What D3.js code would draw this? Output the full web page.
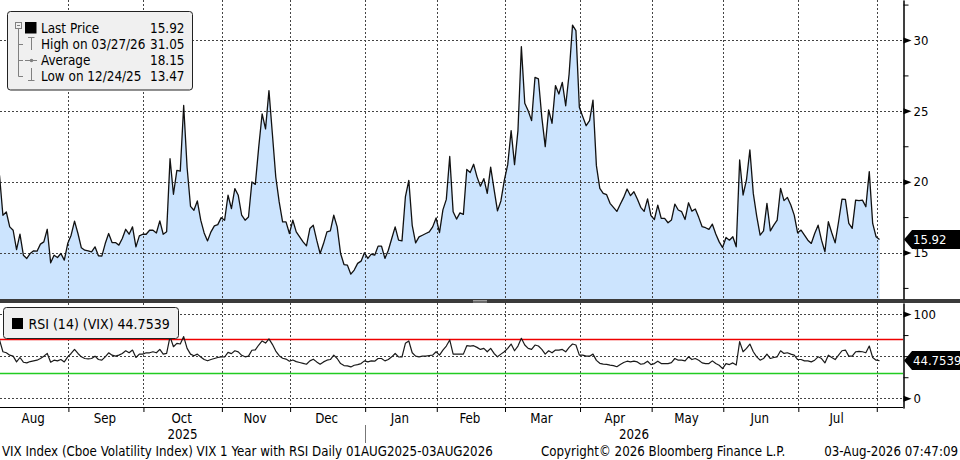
<!DOCTYPE html>
<html><head><meta charset="utf-8">
<script src="https://cdn.jsdelivr.net/npm/d3@7"></script>
<style>
html,body{margin:0;padding:0;background:#fff;}
svg{display:block;font-family:"DejaVu Sans Condensed","DejaVu Sans",sans-serif;}
</style></head><body>
<svg id="c" width="960" height="460"></svg>
<script>
// ---------- data ----------
const startDate = "2025-08-01";
const endDate = "2026-08-03";
const holidays = ["2025-12-25", "2026-01-01", "2026-04-03"];

const vix = [
20.45,17.63,17.86,16.81,16.57,15.21,16.29,14.81,14.58,14.93,
15.12,15.09,15.59,15.75,16.64,14.27,14.81,14.65,14.93,14.46,
15.63,16.22,17.21,16.34,15.33,15.16,15.12,15.05,15.40,14.77,
14.74,15.63,16.34,15.70,15.70,15.52,15.99,16.64,16.29,16.81,
15.40,16.17,16.29,16.29,16.57,16.57,16.38,17.23,16.29,16.46,
21.62,19.11,20.80,20.75,25.38,21.00,18.26,17.98,18.64,17.28,
16.38,15.82,16.46,16.88,16.97,17.46,17.28,19.04,18.10,19.51,
19.04,17.63,17.28,17.51,19.98,19.81,22.44,24.79,23.73,26.43,
23.38,20.33,18.57,17.16,17.16,16.34,17.28,16.46,16.10,15.75,
15.47,16.69,16.92,15.87,14.93,15.63,16.46,16.53,17.63,16.81,
14.93,14.15,14.11,13.47,13.76,14.23,14.39,14.98,14.58,14.88,
14.81,15.45,15.45,14.58,15.16,15.99,16.81,15.87,15.82,18.92,
20.09,16.92,15.68,16.10,16.22,16.34,16.45,16.81,17.44,16.40,
18.01,18.75,21.78,17.87,17.36,17.80,17.69,20.86,20.65,21.23,
20.34,19.68,20.21,19.17,21.03,19.45,17.94,18.64,20.09,21.20,
23.60,21.20,23.60,29.53,25.53,25.01,24.31,27.36,27.25,24.54,
22.47,25.06,24.12,26.78,26.19,27.01,25.36,27.60,31.05,30.66,
25.25,24.59,23.95,24.31,25.76,21.13,19.53,19.18,19.08,18.47,
18.19,17.90,18.40,18.89,19.48,19.01,19.29,18.78,18.19,17.90,
18.78,17.60,17.33,18.35,17.41,17.41,17.10,17.29,18.42,18.00,
17.88,17.33,18.51,17.92,18.07,17.48,16.82,16.75,16.63,17.00,
16.30,15.75,15.35,16.06,15.87,16.11,15.40,21.53,19.06,20.12,
22.24,19.17,17.57,16.23,16.53,18.47,16.53,16.93,17.29,19.53,
18.66,18.89,18.35,17.64,16.39,16.58,16.23,15.87,15.64,16.34,
16.93,15.87,15.05,17.17,16.39,15.68,17.17,18.77,18.75,17.05,
16.70,18.70,18.66,18.70,18.23,20.71,17.05,16.11,15.92
];

const rsi = [
69.2,55.2,54.0,51.2,50.0,43.2,48.4,42.8,42.0,43.6,
44.4,45.2,47.2,50.0,53.2,42.8,45.2,44.4,46.0,43.2,
49.2,53.2,58.0,53.2,49.2,47.2,46.8,47.2,50.0,46.0,
45.2,49.2,54.0,51.2,50.0,51.2,53.2,56.4,54.0,57.2,
48.4,52.4,52.4,54.0,54.0,55.2,54.0,58.0,52.4,53.2,
73.2,61.2,65.2,64.4,73.2,59.2,52.4,50.4,52.4,49.0,
46.0,44.5,46.0,47.2,48.4,49.2,49.0,54.5,53.0,56.4,
55.0,51.0,49.2,50.0,57.0,57.5,63.2,68.0,65.5,70.5,
64.0,56.0,50.5,47.5,46.5,44.0,45.5,43.5,42.5,41.5,
40.4,44.4,46.4,43.2,40.4,43.2,45.2,46.0,51.2,47.2,
41.2,38.8,38.4,37.2,39.2,40.0,41.2,44.4,43.2,44.4,
44.0,47.2,47.2,44.4,46.0,49.2,53.2,49.2,49.0,65.2,
68.0,54.0,50.0,49.2,50.0,50.0,50.8,51.2,55.2,51.2,
57.2,62.0,69.2,52.4,52.4,52.4,52.4,62.4,62.0,62.4,
60.4,58.0,59.2,55.2,59.2,53.2,49.2,52.4,55.2,59.2,
64.4,56.4,62.0,71.2,63.2,59.2,58.0,63.2,62.0,58.0,
52.4,56.4,54.0,57.2,57.2,58.0,55.2,60.4,64.4,63.2,
51.2,51.2,50.0,50.0,52.4,45.0,41.5,40.6,40.2,39.4,
38.8,37.4,40.0,42.4,44.0,43.2,44.0,43.2,40.4,41.2,
44.0,40.0,41.2,44.0,41.2,41.2,41.2,42.4,47.2,45.2,
45.2,44.4,49.2,46.0,47.2,45.2,42.0,41.2,41.2,44.4,
41.2,39.2,35.2,41.2,40.0,42.0,39.5,67.2,55.2,59.2,
64.4,55.2,49.2,45.2,47.2,52.4,47.2,48.4,49.2,56.4,
53.2,54.0,52.4,51.2,46.0,46.0,44.4,44.4,43.2,45.2,
49.2,47.2,42.0,51.2,48.4,46.0,51.2,56.4,57.2,50.0,
50.0,55.2,55.6,55.2,54.0,62.0,48.4,45.2,44.75
];

const monthNames = ["Jan","Feb","Mar","Apr","May","Jun","Jul","Aug","Sep","Oct","Nov","Dec"];
const priceTicks = [15, 20, 25, 30];
const priceMinorTicks = [12.5, 17.5, 22.5, 27.5, 32.5];
const rsiTicks = [0, 100];
const rsiMinorTicks = [25, 50, 75];
const rsiGridValues = [0, 50, 100];
const rsiOverbought = 70;
const rsiOversold = 30;
const legendLabels = ["Last Price", "High on 03/27/26", "Average", "Low on 12/24/25"];
const legendValues = ["15.92", "31.05", "18.15", "13.47"];
const lastPrice = 15.92;
const lastRsi = 44.7539;
const rsiLegendText = "RSI (14) (VIX) 44.7539";
const footerLeft = "VIX Index (Cboe Volatility Index) VIX 1 Year with RSI Daily 01AUG2025-03AUG2026";
const footerMid = "Copyright\u00A9 2026 Bloomberg Finance L.P.";
const footerRight = "03-Aug-2026 07:47:09";

// ---------- calendar (weekdays without listed holidays) ----------
const dates = [];
for (let d = new Date(startDate + "T00:00:00Z"); d <= new Date(endDate + "T00:00:00Z"); d.setUTCDate(d.getUTCDate() + 1)) {
  const wd = d.getUTCDay();
  const s = d.toISOString().slice(0, 10);
  if (wd !== 0 && wd !== 6 && !holidays.includes(s)) dates.push(new Date(d));
}
const monthStarts = [];
dates.forEach((d, i) => {
  if (i === 0 || d.getUTCMonth() !== dates[i - 1].getUTCMonth()) monthStarts.push(i);
});

// ---------- layout ----------
const svg = d3.select("#c");
const AX = 903;               // right axis x
const MAIN_TOP = 0, MAIN_BOT = 299;
const SEP_BOT = 303;
const RSI_BOT = 408;

const x = d3.scaleLinear().domain([0, dates.length - 1]).range([-0.5, 879.5]);
const gx = i => x(i - 0.8);   // month boundary position

const yMain = d3.scaleLinear().domain([15, 30]).range([252.5, 40]);
yMain.domain([yMain.invert(MAIN_BOT), yMain.invert(MAIN_TOP)]).range([MAIN_BOT, MAIN_TOP]);

const yRsi = d3.scaleLinear().domain([0, 100]).range([398.3, 314]);
yRsi.domain([yRsi.invert(RSI_BOT), yRsi.invert(SEP_BOT)]).range([RSI_BOT, SEP_BOT]);

const defs = svg.append("defs");
defs.append("clipPath").attr("id", "clipMain").append("rect")
  .attr("x", 0).attr("y", MAIN_TOP).attr("width", AX).attr("height", MAIN_BOT - MAIN_TOP);
defs.append("clipPath").attr("id", "clipRsi").append("rect")
  .attr("x", 0).attr("y", SEP_BOT).attr("width", AX).attr("height", RSI_BOT - SEP_BOT);

const gridColor = "#444";
const dash = "2,2";

// ---------- main panel ----------
const gMain = svg.append("g").attr("clip-path", "url(#clipMain)");
gMain.append("path").datum(vix)
  .attr("fill", "#cce4fe")
  .attr("d", d3.area().x((d, i) => x(i)).y0(MAIN_BOT).y1(d => yMain(d)));

gMain.selectAll("line.hg").data(priceTicks).join("line")
  .attr("x1", 0).attr("x2", AX)
  .attr("y1", d => Math.round(yMain(d)) + 0.5).attr("y2", d => Math.round(yMain(d)) + 0.5)
  .attr("stroke", gridColor).attr("stroke-dasharray", dash).attr("stroke-width", 1);

gMain.selectAll("line.vg").data(monthStarts.slice(1)).join("line")
  .attr("x1", d => Math.round(gx(d)) + 0.5).attr("x2", d => Math.round(gx(d)) + 0.5)
  .attr("y1", MAIN_TOP).attr("y2", MAIN_BOT)
  .attr("stroke", gridColor).attr("stroke-dasharray", dash).attr("stroke-width", 1);

gMain.append("path").datum(vix)
  .attr("fill", "none").attr("stroke", "#111").attr("stroke-width", 1.3)
  .attr("stroke-linejoin", "round")
  .attr("d", d3.line().x((d, i) => x(i)).y(d => yMain(d)));

// ---------- separator ----------
svg.append("rect").attr("x", 0).attr("y", MAIN_BOT).attr("width", 960).attr("height", SEP_BOT - MAIN_BOT)
  .attr("fill", "#3b3b3b");
[300.5, 302].forEach(yy => svg.append("line").attr("x1", 473).attr("x2", 487).attr("y1", yy).attr("y2", yy)
  .attr("stroke", "#b8b8b8").attr("stroke-width", 0.8));

// ---------- RSI panel ----------
const gRsi = svg.append("g").attr("clip-path", "url(#clipRsi)");
gRsi.selectAll("line.rg").data(rsiGridValues).join("line")
  .attr("x1", 0).attr("x2", AX)
  .attr("y1", d => Math.round(yRsi(d)) + 0.5).attr("y2", d => Math.round(yRsi(d)) + 0.5)
  .attr("stroke", gridColor).attr("stroke-dasharray", dash);
gRsi.selectAll("line.rv").data(monthStarts.slice(1)).join("line")
  .attr("x1", d => Math.round(gx(d)) + 0.5).attr("x2", d => Math.round(gx(d)) + 0.5)
  .attr("y1", SEP_BOT).attr("y2", RSI_BOT)
  .attr("stroke", gridColor).attr("stroke-dasharray", dash);
gRsi.append("line").attr("x1", 0).attr("x2", AX)
  .attr("y1", Math.round(yRsi(rsiOverbought)) + 0.5).attr("y2", Math.round(yRsi(rsiOverbought)) + 0.5)
  .attr("stroke", "#ee0000").attr("stroke-width", 1.3);
gRsi.append("line").attr("x1", 0).attr("x2", AX)
  .attr("y1", Math.round(yRsi(rsiOversold)) + 0.5).attr("y2", Math.round(yRsi(rsiOversold)) + 0.5)
  .attr("stroke", "#22cc22").attr("stroke-width", 1.3);
gRsi.append("path").datum(rsi)
  .attr("fill", "none").attr("stroke", "#1a1a1a").attr("stroke-width", 1.2)
  .attr("stroke-linejoin", "round")
  .attr("d", d3.line().x((d, i) => x(i)).y(d => yRsi(d)));

// bottom axis line and month ticks
const xAxis = d3.axisBottom(x).tickValues(monthStarts.slice(1).map(i => i - 0.8))
  .tickSize(4).tickFormat("").tickSizeOuter(0);
const gx0 = svg.append("g").attr("transform", `translate(0,${RSI_BOT})`).call(xAxis);
gx0.select(".domain").remove();
gx0.selectAll("line").attr("stroke", "#000");
svg.append("line").attr("x1", 0).attr("x2", AX).attr("y1", RSI_BOT - 0.5).attr("y2", RSI_BOT - 0.5)
  .attr("stroke", "#000").attr("stroke-width", 1.2);

// ---------- right axes ----------
function styleAxis(g) {
  g.select(".domain").attr("stroke", "#000");
  g.selectAll(".tick line").attr("stroke", "#000");
  g.selectAll("text").attr("font-size", 13).attr("fill", "#000")
    .attr("font-family", '"DejaVu Sans Condensed","DejaVu Sans",sans-serif');
}
const aMainMinor = svg.append("g").attr("transform", `translate(${AX + 0.5},0)`)
  .call(d3.axisRight(yMain).tickValues(priceMinorTicks).tickSize(5).tickFormat("").tickSizeOuter(0));
styleAxis(aMainMinor);
const aMain = svg.append("g").attr("transform", `translate(${AX + 0.5},0)`)
  .call(d3.axisRight(yMain).tickValues(priceTicks).tickSize(0).tickPadding(10).tickSizeOuter(0));
styleAxis(aMain);
aMain.selectAll(".tick").append("path").attr("d", "M0,-3 L8,0 L0,3 Z").attr("fill", "#000");

const aRsiMinor = svg.append("g").attr("transform", `translate(${AX + 0.5},0)`)
  .call(d3.axisRight(yRsi).tickValues(rsiMinorTicks).tickSize(5).tickFormat("").tickSizeOuter(0));
styleAxis(aRsiMinor);
const aRsi = svg.append("g").attr("transform", `translate(${AX + 0.5},0)`)
  .call(d3.axisRight(yRsi).tickValues(rsiTicks).tickSize(0).tickPadding(10).tickSizeOuter(0));
styleAxis(aRsi);
aRsi.selectAll(".tick").append("path").attr("d", "M0,-3 L8,0 L0,3 Z").attr("fill", "#000");

// value flags
function flag(yv, label) {
  const g = svg.append("g").attr("transform", `translate(${AX + 1},${yv})`);
  g.append("path").attr("d", "M0,0 L8,-9.5 L57,-9.5 L57,9.5 L8,9.5 Z").attr("fill", "#000");
  g.append("text").attr("x", 9).attr("y", 4.8).attr("fill", "#fff").attr("font-size", 13).text(label);
}
flag(yMain(lastPrice), lastPrice.toFixed(2));
flag(yRsi(lastRsi), lastRsi.toFixed(4));

// ---------- x labels ----------
const xl = svg.append("g").attr("font-size", 13.2).attr("fill", "#000").attr("text-anchor", "middle");
monthStarts.forEach((s, k) => {
  const left = k === 0 ? 0 : gx(s);
  const right = k + 1 < monthStarts.length ? gx(monthStarts[k + 1]) : AX;
  if (right - left < 30) return;
  xl.append("text").attr("x", (left + right) / 2 - 1).attr("y", 423)
    .text(monthNames[dates[s].getUTCMonth()]);
});
const janIdx = monthStarts.find(i => dates[i].getUTCMonth() === 0);
xl.append("text").attr("x", (0 + gx(janIdx)) / 2).attr("y", 439).text(dates[0].getUTCFullYear());
xl.append("text").attr("x", (gx(janIdx) + AX) / 2).attr("y", 439).text(dates[janIdx].getUTCFullYear());
svg.append("line").attr("x1", Math.round(gx(janIdx)) + 0.5).attr("x2", Math.round(gx(janIdx)) + 0.5)
  .attr("y1", 425).attr("y2", 443).attr("stroke", "#777").attr("stroke-width", 1);

// ---------- legends ----------
const lg = svg.append("g");
lg.append("rect").attr("x", 7.5).attr("y", 11.5).attr("width", 185).attr("height", 78.5).attr("rx", 3)
  .attr("fill", "#f0f0f0").attr("stroke", "#222");
const treeC = "#808080";
lg.append("rect").attr("x", 15.5).attr("y", 22.5).attr("width", 6).attr("height", 6)
  .attr("fill", "none").attr("stroke", treeC);
lg.append("line").attr("x1", 17).attr("x2", 20).attr("y1", 25.5).attr("y2", 25.5).attr("stroke", treeC);
lg.append("line").attr("x1", 18.5).attr("x2", 18.5).attr("y1", 28.5).attr("y2", 76.5).attr("stroke", treeC);
[44.5, 60.5, 76.5].forEach(yy => lg.append("line").attr("x1", 18.5).attr("x2", 23).attr("y1", yy).attr("y2", yy).attr("stroke", treeC));
lg.append("rect").attr("x", 25).attr("y", 22).attr("width", 11.5).attr("height", 11.5).attr("fill", "#000");
// high icon
lg.append("line").attr("x1", 28).attr("x2", 34.5).attr("y1", 37.5).attr("y2", 37.5).attr("stroke", treeC);
lg.append("line").attr("x1", 31.5).attr("x2", 31.5).attr("y1", 37.5).attr("y2", 50).attr("stroke", treeC);
// average icon
lg.append("line").attr("x1", 25).attr("x2", 37).attr("y1", 60.5).attr("y2", 60.5).attr("stroke", treeC);
lg.append("circle").attr("cx", 31.5).attr("cy", 60.5).attr("r", 1.8).attr("fill", treeC);
// low icon
lg.append("line").attr("x1", 31.5).attr("x2", 31.5).attr("y1", 68).attr("y2", 80).attr("stroke", treeC);
lg.append("line").attr("x1", 28).attr("x2", 34.5).attr("y1", 80.5).attr("y2", 80.5).attr("stroke", treeC);
legendLabels.forEach((t, k) => {
  lg.append("text").attr("x", 41).attr("y", 33 + 16 * k).attr("font-size", 13.4).attr("fill", "#000").text(t);
  lg.append("text").attr("x", 184.5).attr("y", 33 + 16 * k).attr("font-size", 13.4).attr("fill", "#000")
    .attr("text-anchor", "end").text(legendValues[k]);
});

const rl = svg.append("g");
rl.append("rect").attr("x", 3.5).attr("y", 307.5).attr("width", 175).attr("height", 31).attr("rx", 3)
  .attr("fill", "#f0f0f0").attr("stroke", "#222");
rl.append("rect").attr("x", 12).attr("y", 318).attr("width", 11).attr("height", 11).attr("fill", "#000");
rl.append("text").attr("x", 28.5).attr("y", 328.5).attr("font-size", 14).attr("fill", "#000").text(rsiLegendText);

// ---------- footer ----------
const ft = svg.append("g").attr("font-size", 13.2).attr("fill", "#000");
ft.append("text").attr("x", 2).attr("y", 456).text(footerLeft);
ft.append("text").attr("x", 541).attr("y", 456).text(footerMid);
ft.append("text").attr("x", 958).attr("y", 456).attr("text-anchor", "end").text(footerRight);
</script>
</body></html>
